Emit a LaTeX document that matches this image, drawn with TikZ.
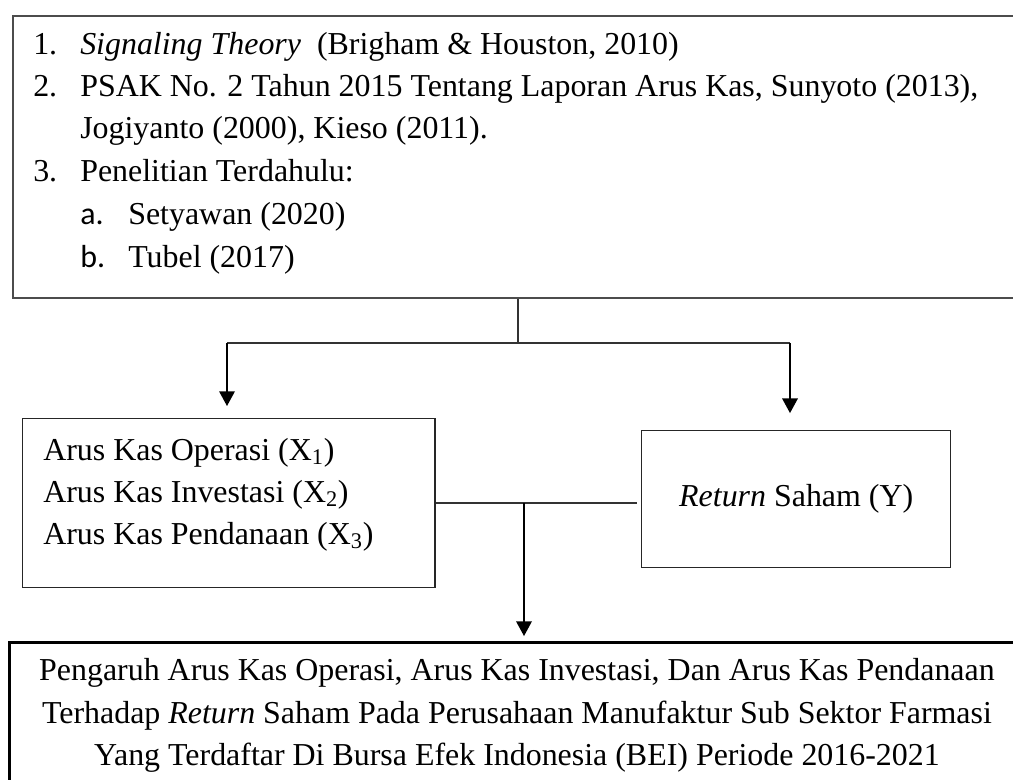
\documentclass[tikz,border=0pt]{standalone}
\usepackage{fontspec}
\setmainfont{Liberation Serif}
\newfontfamily\labelfont{Carlito}
\usetikzlibrary{arrows.meta}

\begin{document}
\begin{tikzpicture}[x=0.025cm,y=-0.025cm,>={Triangle[width=11pt,length=10.5pt]},
  box/.style={draw,rectangle,anchor=north west,inner sep=0pt},
  txt/.style={inner sep=0pt,font=\fontsize{22.7pt}{30pt}\selectfont},
  con/.style={line width=0.9pt,draw=black!80},
  arr/.style={->,line width=1.4pt}]
\path[use as bounding box,clip] (0,0) rectangle (1013,780);

% boxes
\node[box,line width=1.4pt,draw=black!70,minimum width=25.45cm,minimum height=7.05cm] (teori) at (12,15) {};
\node[box,line width=1pt,draw=black!85,minimum width=10.3cm,minimum height=4.225cm] (varx) at (22,418) {};
\node[box,line width=1pt,draw=black!85,minimum width=7.725cm,minimum height=3.425cm,
  txt] (vary) at (641,430) {\textit{Return} Saham (Y)};
\node[box,line width=1.8pt,minimum width=25.5cm,minimum height=4cm] (hasil) at (8,641) {};

% list in the top box
\node[txt,anchor=base west] (n1) at (33,55) {1.};
\node[txt,anchor=base west] (t1) at (80,55) {\textit{Signaling Theory}\ \ (Brigham \& Houston, 2010)};
\node[txt,anchor=base west] (n2) at (33,97) {2.};
\node[txt,anchor=base west] (t2) at (80,97) {PSAK No. 2 Tahun 2015 Tentang Laporan Arus Kas, Sunyoto (2013),};
\node[txt,anchor=base west] (t2b) at (80,139) {Jogiyanto (2000), Kieso (2011).};
\node[txt,anchor=base west] (n3) at (33,182) {3.};
\node[txt,anchor=base west] (t3) at (80,182) {Penelitian Terdahulu:};
\node[txt,anchor=base west,font=\labelfont\fontsize{22.7pt}{30pt}\selectfont] (na) at (80,225) {a.};
\node[txt,anchor=base west] (ta) at (128,225) {Setyawan (2020)};
\node[txt,anchor=base west,font=\labelfont\fontsize{22.7pt}{30pt}\selectfont] (nb) at (80,268) {b.};
\node[txt,anchor=base west] (tb) at (128,268) {Tubel (2017)};

% variables X
\node[txt,anchor=base west] (x1) at (43,460) {Arus Kas Operasi (X\textsubscript{1})};
\node[txt,anchor=base west] (x2) at (43,502) {Arus Kas Investasi (X\textsubscript{2})};
\node[txt,anchor=base west] (x3) at (43,544) {Arus Kas Pendanaan (X\textsubscript{3})};

% judul
\node[txt,anchor=base] (h1) at (517,680) {Pengaruh Arus Kas Operasi, Arus Kas Investasi, Dan Arus Kas Pendanaan};
\node[txt,anchor=base] (h2) at (517,723) {Terhadap \textit{Return} Saham Pada Perusahaan Manufaktur Sub Sektor Farmasi};
\node[txt,anchor=base] (h3) at (517,765) {Yang Terdaftar Di Bursa Efek Indonesia (BEI) Periode 2016-2021};

% connectors
\coordinate (tj) at (518,343);
\coordinate (lj) at (227,343);
\coordinate (rj) at (790,343);
\coordinate (mj) at (524,503);
\draw[con] (tj |- teori.south) -- (tj);
\draw[con,line width=1.1pt] (lj) -- (rj);
\draw[arr,shorten >=8.5pt] (lj) -- (lj |- varx.north);
\draw[arr,shorten >=12pt] (rj) -- (rj |- vary.north);
\draw[con,shorten >=3pt] (varx.east |- mj) -- (mj -| vary.west);
\draw[arr,shorten >=3.5pt] (mj) -- (mj |- hasil.north);
\end{tikzpicture}
\end{document}
